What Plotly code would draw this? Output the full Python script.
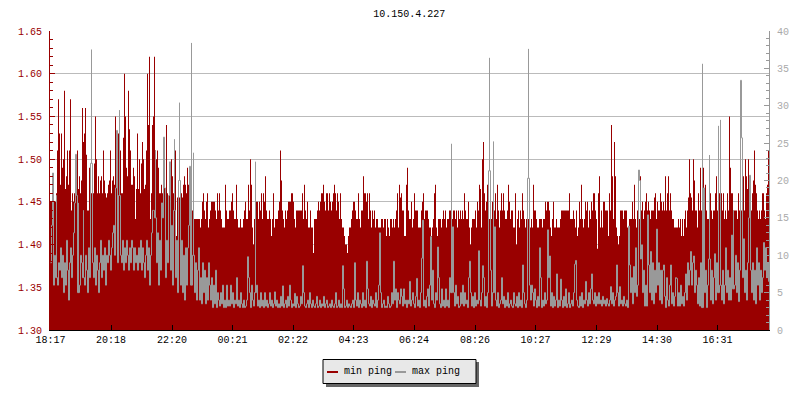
import plotly.graph_objects as go

title_text = "10.150.4.227"
series_names = ["min ping", "max ping"]
tick_minutes = [0, 121, 243, 364, 485, 606, 727, 849, 970, 1092, 1213, 1334]
tick_labels = ["18:17", "20:18", "22:20", "00:21", "02:22", "04:23", "06:24", "08:26", "10:27", "12:29", "14:30", "16:31"]

min_ping = [
1.45,1.45,1.45,1.45,1.45,1.45,1.46,1.51,1.57,1.53,1.47,1.53,1.49,1.50,1.58,1.465,1.48,1.51,1.47,1.51,
1.57,1.44,1.46,1.45,1.46,1.45,1.46,1.51,1.465,1.48,1.46,1.475,1.56,1.52,1.53,1.56,1.505,1.44,1.44,1.49,
1.47,1.46,1.46,1.46,1.495,1.55,1.50,1.46,1.48,1.46,1.475,1.48,1.46,1.51,1.475,1.46,1.455,1.46,1.47,1.475,
1.51,1.46,1.475,1.48,1.47,1.55,1.51,1.50,1.53,1.49,1.51,1.46,1.46,1.525,1.60,1.55,1.49,1.48,1.58,1.535,
1.51,1.47,1.47,1.49,1.48,1.43,1.465,1.53,1.465,1.50,1.46,1.495,1.52,1.50,1.465,1.47,1.51,1.60,1.54,1.62,
1.43,1.46,1.54,1.55,1.62,1.51,1.50,1.51,1.49,1.46,1.46,1.47,1.46,1.48,1.52,1.44,1.54,1.46,1.455,1.46,
1.46,1.50,1.48,1.46,1.46,1.51,1.41,1.455,1.46,1.455,1.46,1.46,1.455,1.47,1.48,1.47,1.46,1.49,1.47,1.46,
1.45,1.45,1.44,1.43,1.43,1.43,1.43,1.43,1.43,1.43,1.42,1.43,1.45,1.46,1.44,1.43,1.45,1.46,1.42,1.43,
1.44,1.45,1.45,1.45,1.45,1.44,1.43,1.46,1.44,1.46,1.44,1.43,1.42,1.42,1.42,1.47,1.44,1.43,1.43,1.44,
1.44,1.45,1.46,1.44,1.43,1.43,1.47,1.43,1.42,1.42,1.43,1.42,1.42,1.43,1.44,1.45,1.43,1.43,1.47,1.44,
1.50,1.47,1.42,1.40,1.43,1.43,1.45,1.45,1.43,1.45,1.44,1.46,1.43,1.46,1.45,1.48,1.44,1.43,1.43,1.44,
1.43,1.41,1.43,1.46,1.42,1.43,1.43,1.43,1.44,1.45,1.51,1.475,1.44,1.43,1.42,1.44,1.43,1.44,1.45,1.45,
1.45,1.46,1.46,1.45,1.43,1.42,1.44,1.44,1.44,1.44,1.44,1.44,1.46,1.43,1.47,1.44,1.43,1.45,1.42,1.42,
1.44,1.42,1.42,1.39,1.43,1.43,1.43,1.44,1.45,1.44,1.45,1.46,1.46,1.47,1.45,1.44,1.46,1.46,1.44,1.46,
1.45,1.44,1.45,1.46,1.47,1.46,1.44,1.46,1.45,1.43,1.46,1.43,1.42,1.42,1.41,1.40,1.40,1.39,1.41,1.42,
1.42,1.43,1.44,1.45,1.45,1.44,1.43,1.43,1.46,1.43,1.42,1.44,1.44,1.48,1.46,1.46,1.45,1.46,1.43,1.46,
1.44,1.42,1.44,1.43,1.44,1.42,1.43,1.43,1.42,1.42,1.42,1.43,1.43,1.42,1.43,1.43,1.41,1.43,1.42,1.41,
1.43,1.43,1.42,1.43,1.42,1.43,1.44,1.46,1.42,1.47,1.455,1.46,1.44,1.44,1.41,1.41,1.47,1.49,1.44,1.43,
1.43,1.45,1.42,1.43,1.46,1.44,1.44,1.44,1.42,1.42,1.42,1.44,1.45,1.46,1.43,1.44,1.44,1.44,1.43,1.42,
1.42,1.41,1.42,1.43,1.46,1.47,1.42,1.41,1.43,1.43,1.43,1.42,1.43,1.44,1.43,1.44,1.42,1.43,1.43,1.44,
1.44,1.43,1.43,1.44,1.44,1.43,1.44,1.42,1.44,1.43,1.44,1.43,1.44,1.43,1.46,1.44,1.43,1.43,1.45,1.42,
1.40,1.42,1.43,1.43,1.43,1.44,1.42,1.45,1.44,1.47,1.465,1.42,1.50,1.52,1.46,1.44,1.45,1.47,1.44,1.43,
1.44,1.43,1.45,1.43,1.44,1.46,1.43,1.47,1.44,1.42,1.44,1.46,1.44,1.46,1.44,1.43,1.43,1.44,1.47,1.45,
1.43,1.44,1.44,1.42,1.42,1.46,1.40,1.43,1.44,1.42,1.44,1.43,1.46,1.44,1.43,1.42,1.43,1.44,1.43,1.43,
1.42,1.43,1.42,1.47,1.44,1.44,1.43,1.42,1.42,1.43,1.43,1.43,1.42,1.43,1.43,1.45,1.44,1.45,1.45,1.44,
1.42,1.41,1.43,1.45,1.42,1.42,1.43,1.42,1.42,1.42,1.43,1.44,1.44,1.44,1.44,1.44,1.44,1.44,1.44,1.46,
1.43,1.43,1.43,1.44,1.43,1.42,1.44,1.41,1.42,1.45,1.43,1.47,1.43,1.42,1.43,1.45,1.44,1.45,1.42,1.44,
1.43,1.45,1.44,1.46,1.46,1.44,1.43,1.395,1.46,1.48,1.42,1.44,1.42,1.45,1.45,1.44,1.44,1.44,1.41,1.46,
1.44,1.54,1.48,1.43,1.52,1.48,1.42,1.41,1.40,1.41,1.44,1.44,1.44,1.43,1.44,1.44,1.44,1.42,1.42,1.43,
1.43,1.43,1.45,1.43,1.47,1.43,1.42,1.44,1.44,1.43,1.48,1.44,1.45,1.43,1.44,1.45,1.46,1.44,1.45,1.44,
1.43,1.44,1.44,1.44,1.455,1.46,1.43,1.45,1.44,1.44,1.46,1.45,1.44,1.45,1.44,1.48,1.44,1.46,1.48,1.44,
1.46,1.44,1.43,1.43,1.42,1.42,1.42,1.42,1.43,1.42,1.43,1.41,1.43,1.41,1.43,1.44,1.42,1.44,1.455,1.50,
1.46,1.455,1.44,1.50,1.475,1.44,1.44,1.42,1.46,1.44,1.49,1.44,1.48,1.49,1.44,1.47,1.44,1.43,1.43,1.44,
1.46,1.44,1.43,1.44,1.44,1.46,1.48,1.44,1.43,1.46,1.46,1.46,1.44,1.46,1.43,1.44,1.43,1.46,1.44,1.55,
1.49,1.46,1.46,1.43,1.44,1.44,1.44,1.43,1.46,1.44,1.43,1.44,1.46,1.48,1.44,1.50,1.48,1.465,1.50,1.47,
1.44,1.44,1.46,1.475,1.51,1.47,1.46,1.44,1.43,1.44,1.43,1.44,1.46,1.46,1.44,1.43,1.46,1.47,1.51,1.505,
]

max_ping = [
9,14,21,6,10,7,18,6,9,8,11,7,10,5,9,6,12,8,4,9,
11,7,10,13,17,23.5,18,5,17,6,10,9,7,16,6,10,8,5,11,7,
22.3,37.5,9,7,11,6,10,8,5,9,12,7,10,8,11,6,10,9,12,10,
8,11,13,14,10,19,26.7,9,18,29.4,10,9,12,8,11,9,12,10,8,11,
9,12,11,8,11,9,10,8,11,9,12,8,11,9,7,10,12,8,11,6,
10,13,16,16,15,24,9,13,6,12,8,17,15,25.8,19,7,12,9,18,22.5,
8,14,6,16,25.5,7,12,5,20,30.4,6,12,5,10,4,11,6,11,14,21.9,
6,38.4,10,23.7,5,9,4,8,11,4,7,3.5,9,5,8,3.5,7,4,9,6,
4,7,3,6,3.5,8,3,5,4,3.2,5,3.5,6,3,4,3,6,3.2,4,3.2,
6,3.5,5,3,4,3.5,7,3.2,4,3,5,3.5,3,4,3,3.2,4,9.8,7,5,
3,6,4,3.2,5,22.5,6,3.2,4,3,5,3.2,4,3,5,3.2,4,3,3.5,5,
3.2,4,3,3.5,5.1,3.2,4,3,3.5,3,4.5,3.2,5.9,3,3.5,4,3,4.5,3.2,6,
4,3,3.5,3.2,4.9,3,4.5,3.5,3,3.2,4.5,3.5,8.6,5,3.2,3,3.5,4,3,5,
3.5,3,4,3.2,3,3.5,4.5,3,3.2,4,3,3.5,3.2,4.5,3,3.5,4,3,3.2,3.5,
3,4,3.2,3,3.5,5,3,3.2,4,3,3.5,3,8.6,5.5,3,3.2,4,3,3.5,3.2,
3,3.5,4,3,9,4,3.2,5,3,4,3.5,3,5,3.2,4,3,9.2,5.5,3.5,3.2,
4.5,3,4,3.5,3.2,5,3,4,6,13,5,3,3.5,4,3,3.2,3,4.5,3.5,3,
3.2,5,3.5,9.2,4,5.5,3,5,4,3.5,5.5,4.5,3.2,5.5,3.5,4,3,4,3.5,6.5,
3.2,4,5,3.5,3,4.5,6.9,3.2,4,3,5,9.6,14.7,3.2,4,3,4.5,5.5,3.2,6,
12.5,4,8,3.5,3,5,4,11.1,7,3.5,3,5.5,3.2,4,3,5.5,3.2,4,3,7,
5,24.9,13.8,5,3.2,6,3.5,4.5,3,3.2,5,3.5,6,3.2,5,3.5,4,3,7,9.2,
5,3.2,4.5,3,5,3.2,4,3.5,10.6,4,3.2,5,8.6,7,3.2,4.5,3,5,21.3,36.4,
8,3.2,5,25.2,13.8,4,3.2,5,3,3.5,4,7,3.5,4.5,3,4,3.2,5,3,3.5,
4,3.2,3,5,3.5,3.2,4.5,3,5,3.2,4,3,8.7,5,3.5,3,4,20.3,37.6,6,
4,6,5,3.2,5.5,4,3,4.5,3.2,11,7,3,4,3.2,5,3.5,4,13.4,7,9.9,
3.2,5,3,4.5,3.2,4,7.5,3,4,3.2,6.8,4,3,4.5,3.2,5.5,3,3.5,5,3,
3.5,4,3.2,5,8.8,9.3,4,3.2,3,4.5,3.2,5,3,4,3.5,6.5,4,3.2,5,3.5,
5.5,7.5,4,3.5,5,3.2,4.5,3.5,5,3.5,4,3.2,4.5,3.5,4,3.2,4.2,3.5,3.2,4,
5.8,3.5,5,3.2,4,4.5,8.7,5,3.2,5.8,3.5,4,3.2,4.5,3.5,3.2,4,3,13.9,8.7,
5,7,3.5,8.5,5,11,4.5,6,21.4,20,9.5,11.4,5,8,3.2,6,3.2,15.4,8.7,5,
10.5,4,9,3.5,8,5,13.5,6,9,4,8,3.5,8,8.7,4.5,3,7,4,3.2,6,
8.7,3.5,5,3.2,4.5,7,6.9,3.2,5,3.2,6,3.5,4.5,3.2,5,7.5,4,9,6,8,
10.5,6,9,9.9,5,8,6,3.5,7,3.2,9,3,35.6,19,5,8,3,6,9.5,23.4,
4,8,3.5,7,10.2,4,9,5,27.3,6,28.1,4,8,3.5,6,11,5,8,4,7,
4,12.7,5.5,16,6,10,5,9,3.8,8,33.4,25.7,7,12.2,5,8,4,9,15,20.7,
8,5,9,4,8,3.5,11,6,9,4,8,5,7,11.7,8,11,7,9,6.5,12,
]

RED = "#990000"
GREY = "#999999"
FONT = "Liberation Mono"
L, R, T, B = 50, 31, 31, 70
W, H = 800, 400
SHARP_PEAK = 8

# Sampling is one value every two minutes, one pixel column per sample.
minutes_min = [i * 2 - 1 for i in range(len(min_ping))]

# Max ping is a step line, except that a sharp lone peak returns within its own column.
path_x, path_y = [], []
for i, v in enumerate(max_ping):
    prev = max_ping[i - 1] if i else v
    following = max_ping[i + 1] if i + 1 < len(max_ping) else v
    if v - max(prev, following) > SHARP_PEAK:
        path_x += [i * 2, i * 2, i * 2, (i + 1) * 2]
        path_y += [prev, v, prev, prev]
    else:
        path_x += [i * 2, (i + 1) * 2]
        path_y += [v, v]


def px_x(p):
    return (p - L) / (W - L - R)


def px_y(p):
    return (H - B - p) / (H - T - B)


fig = go.Figure()
fig.add_trace(go.Scatter(
    x=minutes_min, y=min_ping, name=series_names[0], mode="lines", yaxis="y",
    fill="tozeroy", fillcolor=RED, showlegend=False,
    line=dict(color=RED, width=0, shape="hv", simplify=False),
))
fig.add_trace(go.Scatter(
    x=path_x, y=path_y, name=series_names[1], mode="lines", yaxis="y2", showlegend=False,
    line=dict(color=GREY, width=1, simplify=False),
))

shapes = [
    dict(type="rect", xref="paper", yref="paper", x0=px_x(326), x1=px_x(479), y0=px_y(362), y1=px_y(387),
         fillcolor="#666666", line=dict(width=0)),
    dict(type="rect", xref="paper", yref="paper", x0=px_x(323), x1=px_x(476), y0=px_y(359.5), y1=px_y(383.5),
         fillcolor="#e8e8e8", line=dict(color="black", width=1)),
    dict(type="line", xref="paper", yref="paper", x0=px_x(327), x1=px_x(338), y0=px_y(372), y1=px_y(372),
         line=dict(color=RED, width=2)),
    dict(type="line", xref="paper", yref="paper", x0=px_x(395), x1=px_x(406), y0=px_y(372), y1=px_y(372),
         line=dict(color=GREY, width=2)),
]
annotations = [
    dict(text=series_names[0], xref="paper", yref="paper", x=px_x(341.5), y=px_y(371), xanchor="left", yanchor="middle",
         showarrow=False, font=dict(family=FONT, size=10, color="black")),
    dict(text=series_names[1], xref="paper", yref="paper", x=px_x(409.5), y=px_y(371), xanchor="left", yanchor="middle",
         showarrow=False, font=dict(family=FONT, size=10, color="black")),
]

fig.update_layout(
    width=W, height=H,
    margin=dict(l=L, r=R, t=T, b=B, pad=0),
    paper_bgcolor="white", plot_bgcolor="white",
    font=dict(family=FONT, size=10, color="black"),
    title=dict(text=title_text, x=0.5115, xanchor="center", y=0.967, yanchor="middle",
               font=dict(family=FONT, size=10, color="black")),
    showlegend=False,
    shapes=shapes, annotations=annotations,
    xaxis=dict(range=[-1, 1437], tickmode="array", tickvals=tick_minutes, ticktext=tick_labels,
               ticks="inside", ticklen=5, tickcolor="black", showline=True, linecolor="black", linewidth=1,
               showgrid=False, zeroline=False, tickangle=0, tickfont=dict(family=FONT, size=10, color="black")),
    yaxis=dict(range=[1.30, 1.65], tickmode="array", tickvals=[1.30, 1.35, 1.40, 1.45, 1.50, 1.55, 1.60, 1.65],
               ticktext=["1.30", "1.35", "1.40", "1.45", "1.50", "1.55", "1.60", "1.65"],
               ticks="inside", ticklen=5, tickcolor=RED, showline=True, linecolor=RED, linewidth=1,
               showgrid=True, gridcolor="#bbbbbb", gridwidth=1, zeroline=False,
               tickfont=dict(family=FONT, size=10, color=RED), ticklabelstandoff=5,
               minor=dict(tickmode="array", tickvals=[round(1.30 + k * 0.01, 2) for k in range(36)],
                          ticks="inside", ticklen=3, tickcolor=RED, showgrid=False)),
    yaxis2=dict(range=[0, 40], overlaying="y", side="right", tickmode="array", tickvals=[0, 5, 10, 15, 20, 25, 30, 35, 40],
                ticks="inside", ticklen=5, tickcolor=GREY, showline=True, linecolor=GREY, linewidth=1,
                showgrid=False, zeroline=False, tickfont=dict(family=FONT, size=10, color="#aaaaaa"), ticklabelstandoff=5,
                minor=dict(tickmode="array", tickvals=list(range(41)), ticks="inside", ticklen=3, tickcolor=GREY, showgrid=False)),
)

fig.write_html("out.html", config={"displayModeBar": False},
               post_script="document.body.style.margin='0';document.body.style.overflow='hidden';")
